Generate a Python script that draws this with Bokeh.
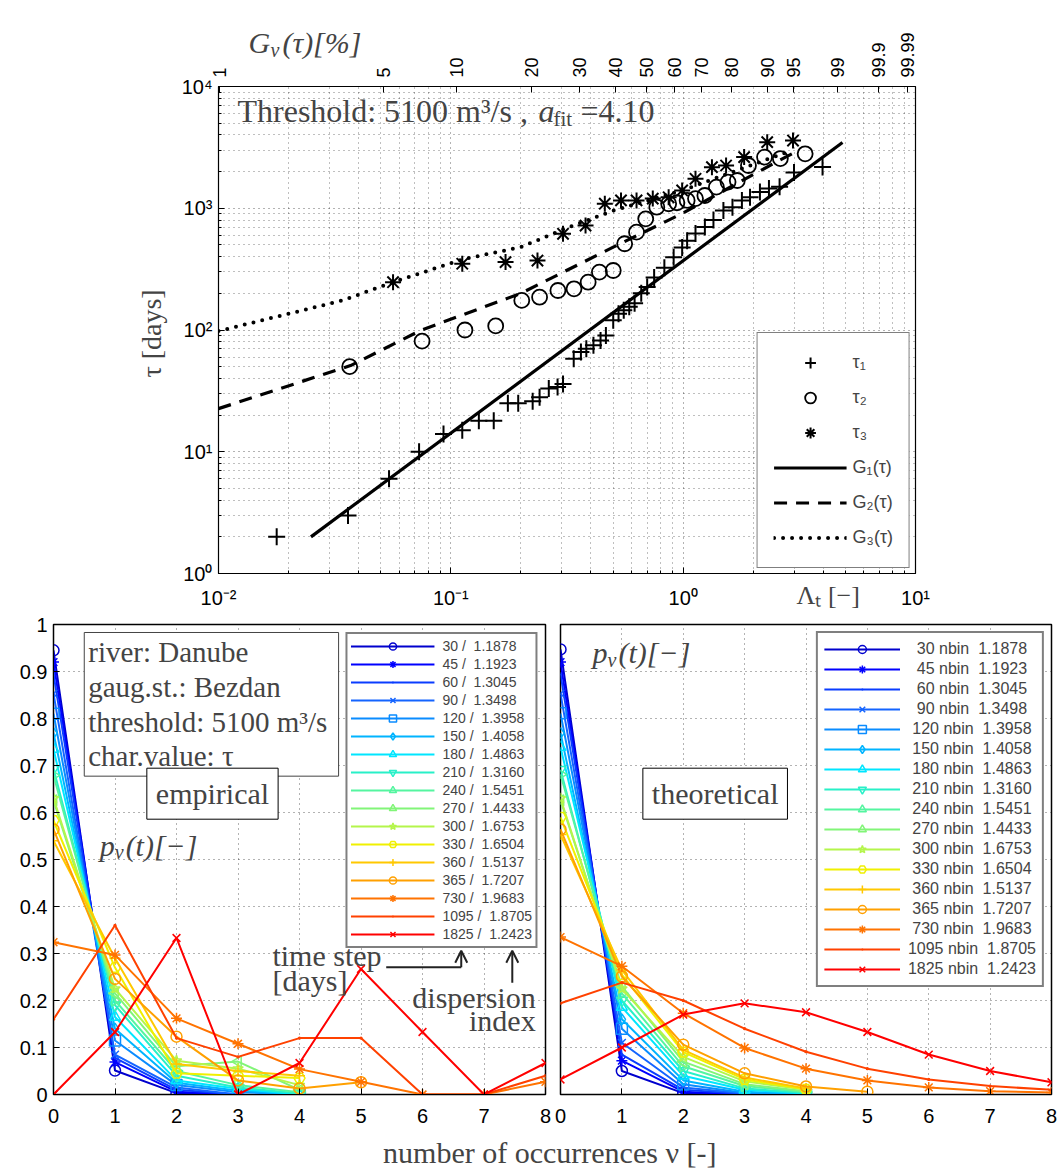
import math
from bokeh.plotting import figure
from bokeh.models import (LogAxis, FixedTicker, CustomJSTickFormatter, Label, Legend,
                          LegendItem, Arrow, OpenHead, Range1d)
from bokeh.layouts import column, row
from bokeh.embed import file_html
from bokeh.resources import INLINE

SANS = "Liberation Sans"
SERIF = "Liberation Serif"

# ---------------- data: upper panel ----------------
lam1 = [0.0178, 0.0361, 0.0542, 0.073, 0.093, 0.112, 0.132, 0.153, 0.176, 0.195, 0.225, 0.241,
        0.264, 0.288, 0.304, 0.338, 0.363, 0.383, 0.411, 0.441, 0.465, 0.50, 0.527, 0.555,
        0.586, 0.618, 0.66, 0.70, 0.75, 0.83, 0.91, 0.99, 1.04, 1.13, 1.24, 1.35, 1.49, 1.63,
        1.79, 1.94, 2.14, 2.34, 2.6, 3.0, 3.98]
tau1 = [2, 3, 6, 10, 14, 15, 18, 18, 25, 25, 26, 28, 33, 34, 36, 58, 66, 70, 75, 82, 90, 120,
        136, 145, 155, 166, 200, 225, 270, 325, 395, 475, 540, 620, 700, 800, 960, 1020, 1160,
        1230, 1360, 1450, 1500, 1970, 2180]

lam2 = [0.0367, 0.0752, 0.115, 0.156, 0.202, 0.241, 0.289, 0.339, 0.390, 0.436, 0.50, 0.56,
        0.63, 0.69, 0.77, 0.866, 0.94, 1.04, 1.13, 1.24, 1.39, 1.56, 1.71, 1.91, 2.24, 2.62, 3.35]
tau2 = [50, 81, 100, 108, 175, 186, 211, 218, 247, 299, 308, 511, 636, 818, 1020, 1089, 1110,
        1160, 1200, 1273, 1490, 1640, 1690, 2245, 2630, 2560, 2800]

lam3 = [0.0564, 0.112, 0.172, 0.236, 0.304, 0.38, 0.46, 0.54, 0.63, 0.74, 0.866, 0.99, 1.13,
        1.33, 1.53, 1.83, 2.3, 2.97]
tau3 = [247, 350, 361, 372, 617, 721, 1090, 1160, 1160, 1200, 1230, 1400, 1745, 2175, 2245,
        2630, 3490, 3600]

g1_lam = [0.025, 4.85]
g1_tau = [2.0, 3470]
g2_lam = [0.01, 0.037, 0.074, 0.2, 0.5, 0.99, 2.45, 3.1]
g2_tau = [22.6, 51, 99, 200, 479, 906, 2330, 2960]
g3_lam = [0.01, 0.0342, 0.0564, 0.112, 0.2, 0.316, 0.5, 1.0, 2.0, 2.9]
g3_tau = [98, 175, 247, 380, 479, 690, 955, 1410, 2290, 2950]

g_pct_values = [1, 5, 10, 20, 30, 40, 50, 60, 70, 80, 90, 95, 99, 99.9, 99.99]
g_pct_labels = ["1", "5", "10", "20", "30", "40", "50", "60", "70", "80", "90", "95", "99",
                "99.9", "99.99"]

# ---------------- data: lower panels ----------------
nu = [0, 1, 2, 3, 4, 5, 6, 7, 8]
y_ticks = [0, 0.1, 0.2, 0.3, 0.4, 0.5, 0.6, 0.7, 0.8, 0.9, 1.0]
time_steps = [30, 45, 60, 90, 120, 150, 180, 210, 240, 270, 300, 330, 360, 365, 730, 1095, 1825]
disp_index = [1.1878, 1.1923, 1.3045, 1.3498, 1.3958, 1.4058, 1.4863, 1.3160, 1.5451, 1.4433,
              1.6753, 1.6504, 1.5137, 1.7207, 1.9683, 1.8705, 1.2423]
emp = [
    [0.945, 0.051, 0.003, 0.0],
    [0.920, 0.069, 0.006, 0.0],
    [0.895, 0.078, 0.010, 0.0],
    [0.853, 0.085, 0.015, 0.0],
    [0.810, 0.115, 0.020, 0.005, 0.0],
    [0.769, 0.140, 0.025, 0.008, 0.0],
    [0.735, 0.165, 0.030, 0.012, 0.0],
    [0.693, 0.190, 0.040, 0.015, 0.002],
    [0.679, 0.200, 0.050, 0.020, 0.005],
    [0.626, 0.215, 0.060, 0.070, 0.010],
    [0.630, 0.225, 0.072, 0.055, 0.020],
    [0.583, 0.270, 0.045, 0.040, 0.035],
    [0.540, 0.290, 0.065, 0.050, 0.040],
    [0.564, 0.246, 0.123, 0.030, 0.013, 0.026],
    [0.324, 0.297, 0.162, 0.108, 0.054, 0.027, 0.0, 0.0, 0.027],
    [0.16, 0.36, 0.12, 0.08, 0.12, 0.12, 0.0, 0.0, 0.04],
    [0.0, 0.133, 0.333, 0.0, 0.067, 0.267, 0.133, 0.0, 0.067],
]
theo = [
    [0.947, 0.050, 0.003, 0.0],
    [0.920, 0.072, 0.006, 0.0002],
    [0.895, 0.085, 0.010, 0.001],
    [0.853, 0.110, 0.015, 0.002],
    [0.811, 0.140, 0.022, 0.003, 0.0005],
    [0.769, 0.160, 0.030, 0.006, 0.001],
    [0.739, 0.186, 0.040, 0.010, 0.002],
    [0.691, 0.200, 0.050, 0.013, 0.003],
    [0.681, 0.215, 0.060, 0.018, 0.005],
    [0.626, 0.230, 0.070, 0.022, 0.007],
    [0.630, 0.225, 0.080, 0.028, 0.010],
    [0.590, 0.255, 0.090, 0.032, 0.011],
    [0.553, 0.265, 0.095, 0.036, 0.013],
    [0.564, 0.251, 0.106, 0.045, 0.017, 0.006],
    [0.335, 0.273, 0.173, 0.099, 0.055, 0.030, 0.015, 0.007, 0.004],
    [0.194, 0.238, 0.200, 0.140, 0.091, 0.055, 0.032, 0.018, 0.010],
    [0.032, 0.100, 0.170, 0.194, 0.175, 0.133, 0.085, 0.050, 0.026],
]
colors = ["#0000cd", "#0000ff", "#0a3cff", "#1464ff", "#0a8cff", "#00b4ff", "#00e6ff",
          "#28f0c8", "#55f5a0", "#82f578", "#b4f54b", "#f0f000", "#ffc800", "#ffa000",
          "#ff7300", "#ff4100", "#ff0000"]
markers = ["circle", "asterisk", "dot", "x", "square", "diamond", "triangle",
           "inverted_triangle", "triangle", "triangle", "star", "hex", "cross", "circle",
           "asterisk", "dot", "x"]
angles = [0, 0, 0, 0, 0, 0, 0, 0, -math.pi / 2, math.pi / 2, 0, 0, 0, 0, 0, 0, 0]

sup_fmt_code = """
const m = {'-':'\u207b','0':'\u2070','1':'\u00b9','2':'\u00b2','3':'\u00b3','4':'\u2074',
           '5':'\u2075','6':'\u2076','7':'\u2077','8':'\u2078','9':'\u2079'};
const e = Math.round(Math.log10(tick));
return '10' + String(e).split('').map(c => m[c]).join('');
"""


def style_axis(ax, size="20px"):
    ax.major_label_text_font = SANS
    ax.major_label_text_font_size = size
    ax.major_label_text_color = "black"
    ax.axis_line_color = "black"
    ax.major_tick_line_color = "black"
    ax.minor_tick_line_color = "black"
    ax.major_tick_in = 6
    ax.major_tick_out = 0
    ax.minor_tick_in = 3
    ax.minor_tick_out = 0


def style_grid(g, minor=True):
    g.grid_line_color = "black"
    g.grid_line_alpha = 0.6
    g.grid_line_dash = "1 4"
    g.grid_line_width = 1
    if minor:
        g.minor_grid_line_color = "black"
        g.minor_grid_line_alpha = 0.5
        g.minor_grid_line_dash = "1 4"
        g.minor_grid_line_width = 1


def sub_label(fig, x, y, main, sub, rest, main_w, sub_w, size=30, side=None):
    """italic symbol with a lowered subscript, followed by more text"""
    parts = [
        Label(x=x, y=y, text=main, text_font=SERIF, text_font_style="italic",
              text_font_size=f"{size}px", text_align="left", text_baseline="middle"),
        Label(x=x, y=y, x_offset=main_w, y_offset=-7, text=sub, text_font=SERIF,
              text_font_style="italic", text_font_size=f"{int(size * 0.68)}px",
              text_align="left", text_baseline="middle"),
        Label(x=x, y=y, x_offset=main_w + sub_w, text=rest, text_font=SERIF,
              text_font_style="italic", text_font_size=f"{size}px", text_align="left",
              text_baseline="middle"),
    ]
    for lb in parts:
        if side is None:
            fig.add_layout(lb)
        else:
            fig.add_layout(lb, side)


# ---------------- upper figure ----------------
top = figure(width=1057, height=612, x_axis_type="log", y_axis_type="log",
             x_range=Range1d(0.01, 10), y_range=Range1d(1, 1e4),
             output_backend="svg", toolbar_location=None,
             min_border_left=218, min_border_right=142, min_border_top=86,
             min_border_bottom=39)
top.outline_line_color = "black"
top.outline_line_width = 1.2

dec_x = [0.01, 0.1, 1, 10]
dec_y = [1, 10, 100, 1000, 10000]
minor_x = [m * d for d in dec_x[:-1] for m in range(2, 10)]
minor_y = [m * d for d in dec_y[:-1] for m in range(2, 10)]
xt = FixedTicker(ticks=dec_x, minor_ticks=minor_x)
yt = FixedTicker(ticks=dec_y, minor_ticks=minor_y)
top.xaxis.ticker = xt
top.xgrid.ticker = xt
top.yaxis.ticker = yt
top.ygrid.ticker = yt
top.xaxis.formatter = CustomJSTickFormatter(code=sup_fmt_code)
top.yaxis.formatter = CustomJSTickFormatter(code=sup_fmt_code)
style_axis(top.xaxis[0])
style_axis(top.yaxis[0])
top.xaxis.major_label_standoff = 13
top.yaxis.major_label_standoff = 6
top.yaxis.axis_label = "\u03c4  [days]"
top.yaxis.axis_label_text_font = SERIF
top.yaxis.axis_label_text_font_style = "normal"
top.yaxis.axis_label_text_font_size = "28px"
top.yaxis.axis_label_standoff = 12
style_grid(top.xgrid[0])
style_grid(top.ygrid[0])

g_pos = [-math.log(1 - v / 100.0) for v in g_pct_values]
g_fmt = CustomJSTickFormatter(args=dict(pos=g_pos, labels=g_pct_labels), code="""
let best = 0; let bd = Infinity;
for (let i = 0; i < pos.length; i++) {
  const d = Math.abs(Math.log(pos[i]) - Math.log(tick));
  if (d < bd) { bd = d; best = i; }
}
return labels[best];
""")
top_axis = LogAxis(ticker=FixedTicker(ticks=g_pos, minor_ticks=[]), formatter=g_fmt,
                   major_label_orientation=math.pi / 2)
style_axis(top_axis, "18px")
top_axis.major_label_standoff = 9
top.add_layout(top_axis, "above")

r_g1 = top.line(g1_lam, g1_tau, line_color="black", line_width=3.2)
r_g2 = top.line(g2_lam, g2_tau, line_color="black", line_width=3.2, line_dash="13 9")
r_g3 = top.line(g3_lam, g3_tau, line_color="black", line_width=4, line_dash="0 9",
                line_cap="round")
r_t1 = top.scatter(lam1, tau1, marker="cross", size=17, line_color="black", line_width=2)
r_t2 = top.scatter(lam2, tau2, marker="circle", size=15, line_color="black", line_width=1.8,
                   fill_color=None)
r_t3 = top.scatter(lam3, tau3, marker="asterisk", size=16, line_color="black", line_width=2)

top_legend = Legend(items=[
    LegendItem(label="\u03c4\u2081", renderers=[r_t1]),
    LegendItem(label="\u03c4\u2082", renderers=[r_t2]),
    LegendItem(label="\u03c4\u2083", renderers=[r_t3]),
    LegendItem(label="G\u2081(\u03c4)", renderers=[r_g1]),
    LegendItem(label="G\u2082(\u03c4)", renderers=[r_g2]),
    LegendItem(label="G\u2083(\u03c4)", renderers=[r_g3]),
], location="bottom_right", glyph_width=73, glyph_height=27, label_height=27, spacing=8,
    padding=16, label_standoff=6, border_line_color="black", border_line_width=1.5, margin=5,
    label_text_font=SANS, label_text_font_size="18px", background_fill_alpha=1)
top.add_layout(top_legend)

# title line inside the frame (anchored at the top edge, shifted down in px)
top.add_layout(Label(x=0.01207, y=1e4, y_offset=-24, text="Threshold:  5100 m\u00b3/s , ",
                     text_font=SERIF, text_font_size="32px", text_align="left",
                     text_baseline="middle"))
top.add_layout(Label(x=0.2385, y=1e4, y_offset=-24, text="a", text_font=SERIF,
                     text_font_style="italic", text_font_size="32px", text_align="left",
                     text_baseline="middle"))
top.add_layout(Label(x=0.2767, y=1e4, y_offset=-32, text="fit", text_font=SERIF,
                     text_font_size="21px", text_align="left", text_baseline="middle"))
top.add_layout(Label(x=0.3614, y=1e4, y_offset=-24, text="=4.10", text_font=SERIF,
                     text_font_size="32px", text_align="left", text_baseline="middle"))
# axis names beside the tick labels: put in side panels so that they are not clipped
sub_label(top, 0.01345, 22960, "G", "\u03bd", "(\u03c4)[%]", 22, 12, 30, side="left")
top.add_layout(Label(x=4.35, y=0.66, text="\u039b\u209c  [\u2212]",
                     text_font=SERIF, text_font_size="26px", text_align="center",
                     text_baseline="middle"), "right")


# ---------------- lower panels ----------------
def panel(data, label_fn, width, mbl, mbr, show_y, leg_font, glyph_w, glyph_h, leg_pad,
          leg_margin):
    p = figure(width=width, height=520, x_range=Range1d(0, 8), y_range=Range1d(0, 1),
               output_backend="svg", toolbar_location=None,
               min_border_left=mbl, min_border_right=mbr, min_border_top=12,
               min_border_bottom=38, y_axis_location="left" if show_y else None)
    p.outline_line_color = "black"
    p.outline_line_width = 1.5
    xt_ = FixedTicker(ticks=nu, minor_ticks=[])
    yt_ = FixedTicker(ticks=y_ticks, minor_ticks=[])
    p.xaxis.ticker = xt_
    p.xgrid.ticker = xt_
    p.ygrid.ticker = yt_
    style_axis(p.xaxis[0])
    p.xaxis.major_label_standoff = 14
    if show_y:
        p.yaxis.ticker = yt_
        p.yaxis.formatter = CustomJSTickFormatter(
            code="return String(Math.round(tick * 10) / 10);")
        style_axis(p.yaxis[0])
        p.yaxis.major_label_standoff = 6
    style_grid(p.xgrid[0], minor=False)
    style_grid(p.ygrid[0], minor=False)
    items = []
    for i, vals in enumerate(data):
        xs = nu[:len(vals)]
        c = colors[i]
        rl = p.line(xs, vals, line_color=c, line_width=2)
        filled = markers[i] == "dot"
        rs = p.scatter(xs, vals, marker=markers[i], angle=angles[i],
                       size=13 if filled else 11, line_color=c, line_width=1.5,
                       fill_color=c if filled else None)
        items.append(LegendItem(label=label_fn(i), renderers=[rl, rs]))
    leg = Legend(items=items, location="top_right", glyph_width=glyph_w, glyph_height=glyph_h,
                 label_height=glyph_h, spacing=0, padding=leg_pad, label_standoff=8,
                 border_line_color="black", border_line_width=2, margin=leg_margin,
                 label_text_font=SANS, label_text_font_size=leg_font,
                 background_fill_alpha=1)
    p.add_layout(leg)
    return p


left = panel(emp, lambda i: f"{time_steps[i]} /  {disp_index[i]:.4f}", 552, 53, 7, True,
             "14px", 84, 18, 3, 8)
right = panel(theo, lambda i: f"{time_steps[i]:4d} nbin  {disp_index[i]:.4f}", 505, 8, 6,
              False, "16px", 76, 20, 6, 7)

left.add_layout(Label(x=0.5, y=0.983, text="river:  Danube\ngaug.st.:  Bezdan\n"
                      "threshold:  5100 m\u00b3/s\nchar.value:  \u03c4",
                      text_font=SERIF, text_font_size="29px", text_align="left",
                      text_baseline="top", text_line_height=1.08,
                      border_line_color="#444444", border_line_width=1,
                      background_fill_color="white", padding=4))
left.add_layout(Label(x=2.585, y=0.64, text="empirical", text_font=SERIF,
                      text_font_size="30px", text_align="center", text_baseline="middle",
                      border_line_color="black", border_line_width=1,
                      background_fill_color="white", padding=9))
sub_label(left, 0.75, 0.53, "p", "\u03bd", "(t)[\u2212]", 15, 11, 30)
left.add_layout(Label(x=3.56, y=0.296, text="time step", text_font=SERIF,
                      text_font_size="30px", text_align="left", text_baseline="middle"))
left.add_layout(Label(x=3.56, y=0.243, text="[days]", text_font=SERIF,
                      text_font_size="30px", text_align="left", text_baseline="middle"))
left.add_layout(Label(x=7.84, y=0.207, text="dispersion", text_font=SERIF,
                      text_font_size="30px", text_align="right", text_baseline="middle"))
left.add_layout(Label(x=7.84, y=0.157, text="index", text_font=SERIF,
                      text_font_size="30px", text_align="right", text_baseline="middle"))
left.add_layout(Arrow(end=None, x_start=5.41, y_start=0.271, x_end=6.63, y_end=0.271,
                      line_color="#222222", line_width=2))
left.add_layout(Arrow(end=OpenHead(size=12, line_width=2, line_color="#222222"),
                      x_start=6.63, y_start=0.271, x_end=6.63, y_end=0.306,
                      line_color="#222222", line_width=2))
left.add_layout(Arrow(end=OpenHead(size=12, line_width=2, line_color="#222222"),
                      x_start=7.46, y_start=0.238, x_end=7.46, y_end=0.306,
                      line_color="#222222", line_width=2))

right.add_layout(Label(x=2.52, y=0.64, text="theoretical", text_font=SERIF,
                       text_font_size="30px", text_align="center", text_baseline="middle",
                       border_line_color="black", border_line_width=1,
                       background_fill_color="white", padding=9))
sub_label(right, 0.52, 0.94, "p", "\u03bd", "(t)[\u2212]", 15, 11, 30)

# ---------------- common x label ----------------
lab = figure(width=1057, height=36, x_range=Range1d(0, 1), y_range=Range1d(0, 1),
             output_backend="svg", toolbar_location=None, x_axis_location=None,
             y_axis_location=None, min_border=0)
lab.outline_line_color = None
lab.xgrid.visible = False
lab.ygrid.visible = False
lab.add_layout(Label(x=0.486, y=0.45, text="number of occurrences   \u03bd [-]",
                     text_font=SERIF, text_font_size="30px", text_align="center",
                     text_baseline="middle"))

layout = column(top, row(left, right), lab)
open("out.html", "w").write(file_html(layout, INLINE))
